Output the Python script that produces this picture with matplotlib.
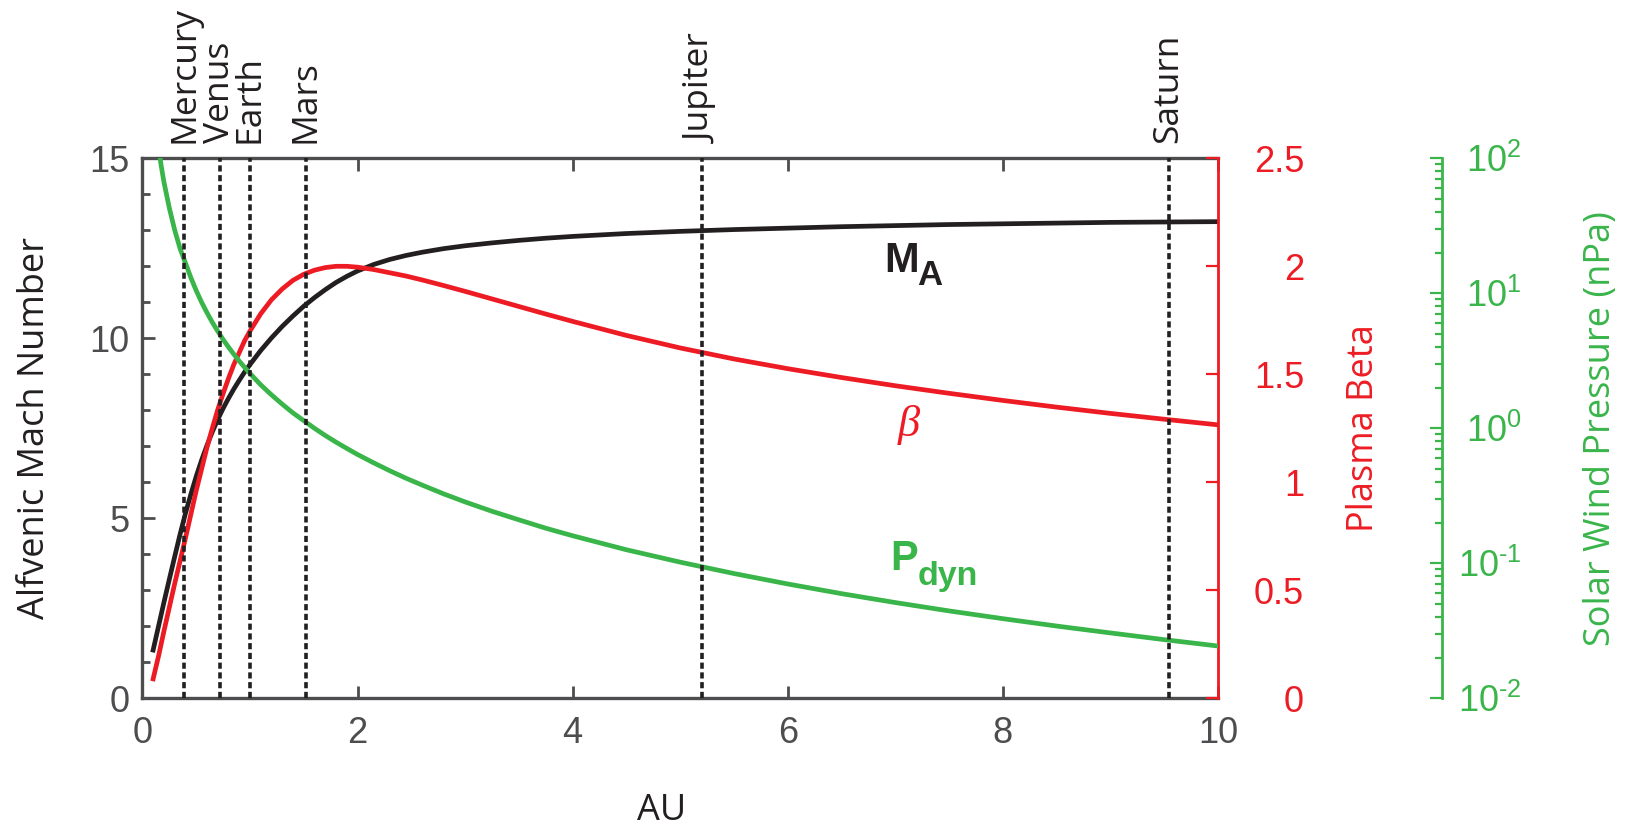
import numpy as np
import matplotlib
matplotlib.use("Agg")
import matplotlib.pyplot as plt
from matplotlib.ticker import LogLocator, NullFormatter

plt.rcParams['font.family'] = ['Liberation Sans', 'DejaVu Sans']
plt.rcParams['mathtext.fontset'] = 'custom'
plt.rcParams['mathtext.rm'] = 'Liberation Sans'
plt.rcParams['mathtext.it'] = 'Liberation Sans:italic'
plt.rcParams['mathtext.bf'] = 'Liberation Sans:bold'

# radial distance (AU) where the profiles are sampled
au = [0.1, 0.15, 0.2, 0.25, 0.3, 0.35, 0.4, 0.45, 0.5, 0.55, 0.6, 0.65,
      0.7, 0.75, 0.8, 0.85, 0.9, 0.95, 1.0, 1.1, 1.2, 1.3, 1.4, 1.5, 1.6,
      1.7, 1.8, 1.9, 2.0, 2.15, 2.3, 2.45, 2.6, 2.8, 3.0, 3.25, 3.5, 3.75,
      4.0, 4.5, 5.0, 5.5, 6.0, 6.5, 7.0, 7.5, 8.0, 8.5, 9.0, 9.5, 10.0]

# Alfvenic Mach number
mach = [1.34, 2.0, 2.66, 3.3, 3.93, 4.55, 5.13, 5.66, 6.16, 6.61, 7.02, 7.4,
        7.74, 8.05, 8.33, 8.59, 8.83, 9.06, 9.27, 9.66, 10.01, 10.33, 10.62,
        10.89, 11.13, 11.35, 11.55, 11.72, 11.87, 12.05, 12.19, 12.3, 12.39,
        12.49, 12.57, 12.65, 12.72, 12.78, 12.83, 12.91, 12.97, 13.02, 13.06,
        13.1, 13.13, 13.16, 13.18, 13.2, 13.22, 13.23, 13.24]

# plasma beta
beta = [0.09, 0.195, 0.31, 0.42, 0.53, 0.635, 0.74, 0.85, 0.96, 1.06, 1.16,
        1.25, 1.335, 1.41, 1.48, 1.545, 1.6, 1.655, 1.70, 1.78, 1.845, 1.895,
        1.935, 1.963, 1.982, 1.994, 2.0, 2.0, 1.996, 1.985, 1.97, 1.955,
        1.937, 1.911, 1.884, 1.849, 1.814, 1.779, 1.745, 1.68, 1.622, 1.571,
        1.526, 1.485, 1.447, 1.412, 1.379, 1.348, 1.319, 1.292, 1.266]

# solar wind dynamic pressure (nPa)
au_p = [0.165, 0.175, 0.2, 0.25, 0.3, 0.35, 0.4, 0.45, 0.5, 0.55, 0.6, 0.65,
        0.7, 0.75, 0.8, 0.85, 0.9, 0.95, 1.0, 1.1, 1.2, 1.3, 1.4, 1.5, 1.6,
        1.7, 1.8, 1.9, 2.0, 2.15, 2.3, 2.45, 2.6, 2.8, 3.0, 3.25, 3.5, 3.75,
        4.0, 4.5, 5.0, 5.5, 6.0, 6.5, 7.0, 7.5, 8.0, 8.5, 9.0, 9.5, 10.0]
p_dyn = [100, 88, 67, 43, 29.5, 21.5, 16.8, 13.1, 10.5, 8.6, 7.2, 6.1, 5.25,
         4.55, 4.0, 3.54, 3.15, 2.83, 2.55, 2.1, 1.77, 1.51, 1.3, 1.14, 1.0,
         0.885, 0.79, 0.71, 0.64, 0.555, 0.485, 0.427, 0.38, 0.327, 0.285,
         0.243, 0.21, 0.182, 0.16, 0.126, 0.102, 0.084, 0.0703, 0.0596,
         0.0512, 0.0444, 0.0389, 0.0343, 0.0305, 0.0272, 0.0244]

planets = ['Mercury', 'Venus', 'Earth', 'Mars', 'Jupiter', 'Saturn']
planet_au = [0.39, 0.72, 1.0, 1.52, 5.2, 9.54]

x_ticks = [0, 2, 4, 6, 8, 10]
mach_ticks = [0, 5, 10, 15]
beta_ticks = [0, 0.5, 1, 1.5, 2, 2.5]
beta_tick_labels = ['0', '0.5', '1', '1.5', '2', '2.5']
p_ticks = [1e-2, 1e-1, 1e0, 1e1, 1e2]
p_tick_labels = ['$\\mathrm{10^{\u2010 2}}$', '$\\mathrm{10^{\u2010 1}}$',
                 r'$\mathrm{10^{0}}$', r'$\mathrm{10^{1}}$', r'$\mathrm{10^{2}}$']

black = '#231f20'
red = '#ed1c24'
green = '#39b54a'
grey = '#4d4d4f'
label_font = 'Open Sans'

fig = plt.figure(figsize=(16.29, 8.27), dpi=100)
ax = fig.add_axes([0.0874, 0.1556, 0.6603, 0.6530])

# Mach number on the left axis
ax.plot(au, mach, color=black, lw=3.4)
ax.set_xlim(0, 10)
ax.set_ylim(0, 15)
ax.set_xticks(x_ticks)
ax.set_xticklabels([str(t) for t in x_ticks])
ax.set_yticks(mach_ticks)
ax.set_yticks(np.arange(16), minor=True)
ax.set_yticklabels([str(t) for t in mach_ticks])
ax.spines['right'].set_visible(False)
for s in ['left', 'top', 'bottom']:
    ax.spines[s].set_color(grey)
    ax.spines[s].set_linewidth(2.4)
ax.tick_params(which='both', direction='in', color=grey, labelcolor=grey,
               width=2, labelsize=26)
ax.tick_params(axis='y', which='major', length=9, pad=9, right=False)
ax.tick_params(axis='y', which='minor', length=5.5, right=False)
ax.tick_params(axis='x', which='major', length=9, pad=13, top=True)

# plasma beta on the red axis
ax2 = ax.twinx()
ax2.plot(au, beta, color=red, lw=3.4)
ax2.set_ylim(0, 2.5)
ax2.set_yticks(beta_ticks)
ax2.set_yticklabels(beta_tick_labels)
for s in ['left', 'top', 'bottom']:
    ax2.spines[s].set_visible(False)
ax2.spines['right'].set_color(red)
ax2.spines['right'].set_linewidth(2)
ax2.tick_params(axis='y', direction='in', color=red, labelcolor=red,
                length=9, width=1.6, pad=62, labelsize=26)
for t in ax2.yaxis.get_major_ticks():
    t.label2.set_horizontalalignment('right')

# dynamic pressure on the detached log axis
ax3 = ax.twinx()
ax3.set_yscale('log')
ax3.plot(au_p, p_dyn, color=green, lw=3.4)
ax3.set_ylim(1e-2, 1e2)
ax3.spines['right'].set_position(('axes', 1.2083))
for s in ['left', 'top', 'bottom']:
    ax3.spines[s].set_visible(False)
ax3.spines['right'].set_color(green)
ax3.spines['right'].set_linewidth(2)
ax3.set_yticks(p_ticks)
ax3.set_yticklabels(p_tick_labels)
ax3.yaxis.set_minor_locator(LogLocator(base=10, subs=np.arange(2, 10)))
ax3.yaxis.set_minor_formatter(NullFormatter())
ax3.tick_params(axis='y', which='both', direction='in', color=green,
                labelcolor=green, width=1.6, labelsize=26)
ax3.tick_params(axis='y', which='major', length=8.5, pad=57)
ax3.tick_params(axis='y', which='minor', length=5)
for t in ax3.yaxis.get_major_ticks():
    t.label2.set_horizontalalignment('right')

# planet orbits
for name, d in zip(planets, planet_au):
    ax3.axvline(d, color=black, lw=2.6, dashes=(1.7, 1.0))
    ax.text(d, 15.42, name, rotation=90, ha='center', va='bottom',
            fontsize=25.5, family=label_font, color=black, clip_on=False)

# curve labels
ax.text(6.90, 11.85, 'M', fontsize=30, fontweight='bold', color=black,
        ha='left', va='baseline')
ax.text(7.20, 11.48, 'A', fontsize=25, fontweight='bold', color=black,
        ha='left', va='baseline')
ax.text(7.02, 7.59, '\u03b2', fontsize=32, family='Liberation Serif',
        style='italic', color=red, ha='left', va='center')
ax.text(6.95, 3.56, 'P', fontsize=30, fontweight='bold', color=green,
        ha='left', va='baseline')
ax.text(7.21, 3.15, 'dyn', fontsize=24.5, fontweight='bold', color=green,
        ha='left', va='baseline')

# axis titles
fig.text(662 / 1629, 1 - 820 / 827, 'AU', ha='center', va='baseline',
         fontsize=26, family=label_font, color=black)
fig.text(35 / 1629, 0.4821, 'Alfvenic Mach Number', rotation=90,
         ha='center', va='center', fontsize=26, family=label_font, color=black)
fig.text(1364 / 1629, 0.4821, 'Plasma Beta', rotation=90,
         ha='center', va='center', fontsize=26, family=label_font, color=red)
fig.text(1601 / 1629, 0.4821, 'Solar Wind Pressure (nPa)', rotation=90,
         ha='center', va='center', fontsize=26, family=label_font, color=green)

fig.savefig('out.png', dpi=100)
